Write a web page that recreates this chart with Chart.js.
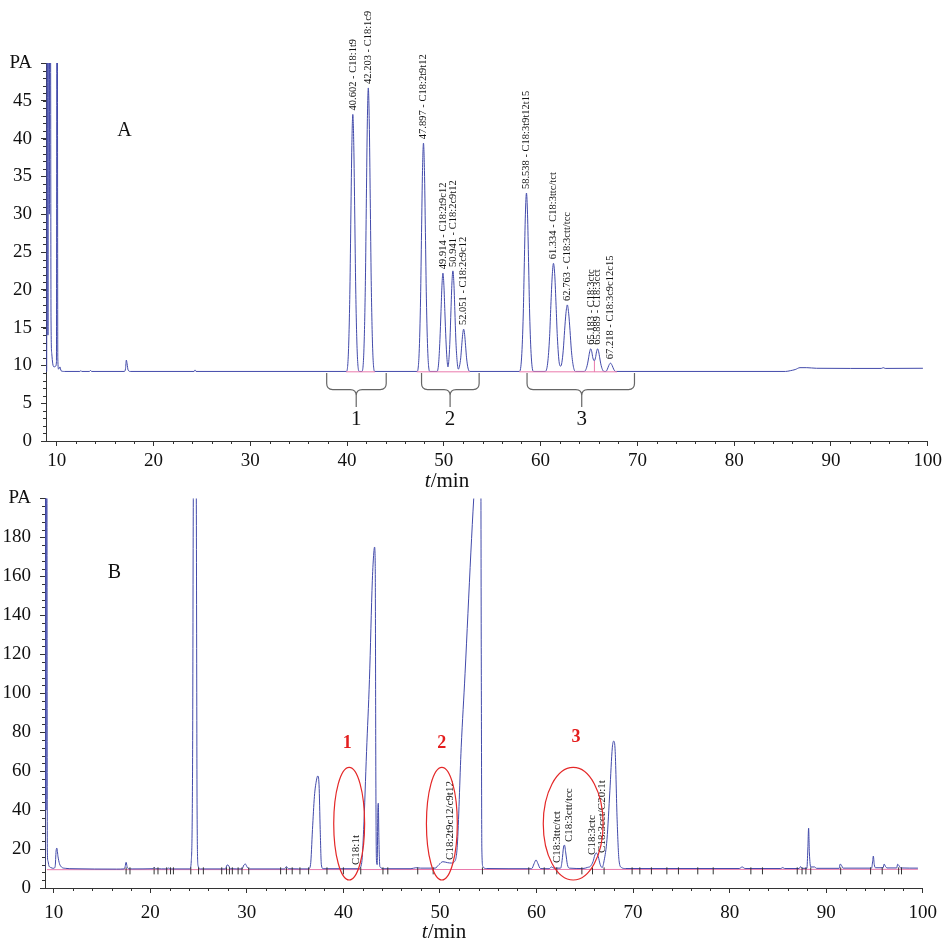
<!DOCTYPE html>
<html>
<head>
<meta charset="utf-8">
<script src="https://cdn.jsdelivr.net/npm/chart.js@4.4.1/dist/chart.umd.min.js"></script>
<style>
  html, body { margin: 0; padding: 0; background: #fff; }
  .panel { position: absolute; left: 0; width: 946px; }
  #panelA { top: 0; height: 500px; }
  #panelB { top: 478px; height: 466px; }
</style>
</head>
<body>
<div class="panel" id="panelA"><canvas id="chartA"></canvas></div>
<div class="panel" id="panelB"><canvas id="chartB"></canvas></div>
<script>
// Chromatogram A and B (t/min vs PA)
const SERIF = '"Liberation Serif", "Times New Roman", serif';
const TRACE_COLOR = 'rgb(66,74,170)';
const BASE_COLOR = 'rgb(234,122,172)';

const xTicks = [10, 20, 30, 40, 50, 60, 70, 80, 90, 100];
const yTicksA = [0, 5, 10, 15, 20, 25, 30, 35, 40, 45, 50];
const yTicksB = [0, 20, 40, 60, 80, 100, 120, 140, 160, 180, 200];

// ---- panel A: trace [t, PA]
const traceA = [
  [8.9, 9.2], [8.97, 9.2], [9.0, 60], [9.06, 60], [9.1, 14], [9.13, 60], [9.2, 60], [9.24, 30],
  [9.28, 60], [9.36, 60], [9.42, 16], [9.5, 11.5], [9.6, 10.2], [9.75, 9.8], [9.9, 9.9],
  [9.98, 10.5], [10.02, 60], [10.07, 60], [10.12, 11], [10.2, 9.5], [10.35, 9.8], [10.45, 9.3],
  [10.8, 9.2], [12.4, 9.2], [12.5, 9.3], [12.6, 9.2], [13.4, 9.2], [13.5, 9.35], [13.6, 9.2],
  [17.0, 9.2], [17.12, 9.6], [17.2, 10.7], [17.28, 10.2], [17.38, 9.4], [17.6, 9.2],
  [24.2, 9.2], [24.3, 9.4], [24.4, 9.2],
  [39.95, 9.2], [40.15, 11.9], [40.3, 20.1], [40.4, 29.9], [40.5, 39.1], [40.6, 43.2],
  [40.7, 39.1], [40.8, 29.9], [40.9, 20.1], [41.05, 11.9], [41.25, 9.2],
  [41.55, 9.2], [41.75, 12.2], [41.9, 21.2], [42.0, 32.1], [42.1, 42.2], [42.2, 46.7],
  [42.3, 42.2], [42.4, 32.1], [42.5, 21.2], [42.65, 12.2], [42.85, 9.2],
  [47.25, 9.2], [47.45, 11.6], [47.6, 18.9], [47.7, 27.6], [47.8, 35.8], [47.9, 39.4],
  [48.0, 35.8], [48.1, 27.6], [48.2, 18.9], [48.35, 11.6], [48.55, 9.2],
  [49.3, 9.2], [49.46, 10.2], [49.6, 13.4], [49.71, 17.1], [49.81, 20.6], [49.91, 22.2],
  [50.01, 20.6], [50.11, 17.1], [50.22, 13.4], [50.32, 11.0], [50.43, 9.8], [50.54, 11.0],
  [50.64, 13.5], [50.74, 17.3], [50.84, 20.9], [50.94, 22.5], [51.04, 20.9], [51.14, 17.3],
  [51.24, 13.5], [51.36, 10.8], [51.5, 9.5], [51.62, 9.9], [51.75, 11.0], [51.85, 12.6],
  [51.95, 14.1], [52.05, 14.8], [52.15, 14.1], [52.25, 12.6], [52.35, 11.0], [52.5, 9.65],
  [52.7, 9.2],
  [57.82, 9.2], [58.04, 11.1], [58.21, 16.8], [58.32, 23.6], [58.43, 30.0], [58.54, 32.8],
  [58.65, 30.0], [58.76, 23.6], [58.87, 16.8], [59.04, 11.1], [59.26, 9.2],
  [60.48, 9.2], [60.73, 10.3], [60.93, 13.8], [61.06, 17.9], [61.2, 21.8], [61.33, 23.5],
  [61.47, 21.8], [61.6, 17.9], [61.73, 13.8], [61.93, 10.3], [62.08, 9.9], [62.2, 10.4],
  [62.34, 12.0], [62.48, 14.6], [62.62, 16.9], [62.76, 18.0], [62.9, 16.9], [63.04, 14.6],
  [63.18, 12.0], [63.38, 9.9], [63.6, 9.2],
  [64.5, 9.2], [64.68, 9.45], [64.85, 10.2], [64.96, 11.0], [65.07, 11.8], [65.18, 12.2],
  [65.29, 11.8], [65.4, 11.0], [65.55, 10.6], [65.67, 11.0], [65.78, 11.8], [65.89, 12.2],
  [66.0, 11.8], [66.11, 11.0], [66.22, 10.2], [66.39, 9.45], [66.55, 9.2],
  [66.75, 9.2], [66.9, 9.5], [67.05, 10.0], [67.22, 10.3], [67.39, 10.0], [67.55, 9.5], [67.75, 9.2],
  [85.3, 9.2], [85.8, 9.3], [86.3, 9.45], [86.8, 9.7], [87.5, 9.7], [88.5, 9.62], [92, 9.6],
  [95.2, 9.6], [95.4, 9.7], [95.6, 9.6], [99.5, 9.62]
];
const peakTimesA = [40.602, 42.203, 47.897, 49.914, 50.941, 52.051, 58.538, 61.334, 62.763, 65.183, 65.889, 67.218];
const peakNamesA = ['C18:1t9', 'C18:1c9', 'C18:2t9t12', 'C18:2t9c12', 'C18:2c9t12', 'C18:2c9c12',
  'C18:3t9t12t15', 'C18:3ttc/tct', 'C18:3ctt/tcc', 'C18:3ctc', 'C18:3cct', 'C18:3c9c12c15'];
const peakApexA = [43.2, 46.7, 39.4, 22.2, 22.5, 14.8, 32.8, 23.5, 18.0, 12.2, 12.2, 10.3];
const baselineSegA = [[39.9, 42.9], [47.2, 52.7], [57.8, 67.9]];
const bracketFromA = [37.9, 47.7, 58.6];
const bracketToA = [44.05, 53.65, 69.7];
const bracketMidA = [40.95, 50.65, 64.25];
const bracketLabelsA = ['1', '2', '3'];

// ---- panel B: trace [t, PA]
const traceB = [
  [9.1, 9.8], [9.12, 215], [9.17, 215], [9.2, 40], [9.24, 215], [9.3, 215], [9.34, 20], [9.4, 14],
  [9.5, 11.5], [9.7, 10.5], [10.0, 10.1], [10.15, 11], [10.25, 19], [10.32, 20.5], [10.45, 16],
  [10.6, 12.5], [10.8, 10.8], [11.2, 10.1], [12.0, 9.9], [16.5, 9.7], [17.3, 9.8], [17.4, 11],
  [17.5, 13.2], [17.6, 11], [17.75, 9.9], [18.2, 9.8], [20.3, 9.9], [20.4, 10.6], [20.55, 9.9],
  [21.8, 9.8], [21.9, 10.4], [22.0, 9.8], [24.1, 9.8], [24.25, 14], [24.38, 60], [24.48, 215],
  [24.75, 215], [24.85, 40], [24.95, 11.5], [25.2, 9.8], [27.8, 9.8], [27.95, 11.8], [28.1, 11.6],
  [28.3, 9.9], [29.5, 9.8], [29.7, 11.8], [29.85, 12.3], [30.05, 10.6], [30.3, 9.8], [33.9, 9.8],
  [34.1, 11], [34.3, 9.9], [36.4, 9.8], [36.6, 12], [36.8, 30], [37.0, 47], [37.2, 55],
  [37.35, 57.5], [37.48, 53], [37.6, 30], [37.72, 12], [37.9, 9.9], [41.6, 9.9], [41.9, 13],
  [42.1, 30], [42.4, 70], [42.7, 107], [43.0, 158], [43.15, 172], [43.23, 175], [43.3, 165],
  [43.36, 60], [43.42, 15], [43.5, 12], [43.57, 40], [43.62, 43.5], [43.68, 25], [43.78, 11],
  [44.2, 9.9], [47.0, 9.9], [47.5, 10.4], [48.0, 10.2], [49.5, 10.2], [49.9, 12], [50.3, 13.5],
  [50.8, 13], [51.2, 12.8], [51.5, 13.5], [51.8, 22], [52.2, 72], [52.6, 110], [52.9, 141],
  [53.2, 172], [53.5, 200], [53.9, 230], [54.22, 240], [54.28, 120], [54.34, 20], [54.45, 11],
  [54.8, 10], [59.5, 9.9], [59.75, 12.5], [59.95, 14.4], [60.15, 12.5], [60.4, 10], [61.3, 9.9],
  [61.55, 10.8], [61.8, 10.2], [62.5, 10.2], [62.65, 14], [62.8, 21], [62.9, 22], [63.03, 18],
  [63.2, 12], [63.4, 10.2], [64.8, 10], [65.3, 10.6], [65.6, 11.2], [65.85, 13.5], [66.05, 17],
  [66.2, 18], [66.4, 16], [66.6, 12], [66.8, 10.5], [67.0, 14], [67.3, 25], [67.6, 50],
  [67.85, 72], [68.0, 75.4], [68.15, 70], [68.35, 35], [68.55, 14], [68.8, 10.5], [69.2, 10],
  [81.0, 10], [81.3, 10.8], [81.6, 10], [85.3, 10], [85.5, 10.5], [85.7, 10], [87.2, 10],
  [87.35, 11], [87.5, 10.1], [88.0, 10.1], [88.1, 20], [88.18, 30.7], [88.26, 18], [88.4, 10.8],
  [88.8, 10.8], [89.0, 10.1], [91.35, 10.1], [91.45, 12.3], [91.6, 11.5], [91.75, 10.2],
  [94.7, 10.2], [94.82, 14], [94.88, 16.4], [94.98, 12], [95.1, 10.4], [95.9, 10.4], [96.0, 12.3],
  [96.15, 11], [96.3, 10.3], [97.3, 10.3], [97.4, 12.2], [97.55, 11.4], [97.7, 10.3], [99.5, 10.2]
];
// integration marks under the baseline
const integTicksB = [17.5, 17.9, 20.4, 20.8, 21.7, 22.1, 22.4, 24.2, 25.0, 25.5, 27.4, 27.9, 28.2,
  28.5, 29.1, 29.5, 30.2, 33.5, 34.1, 34.7, 35.5, 36.4, 38.3, 40.0, 41.8, 44.1, 44.6, 47.7, 49.3,
  54.4, 59.2, 60.8, 62.1, 64.7, 65.8, 67.0, 69.9, 70.7, 71.9, 73.5, 74.7, 76.7, 78.3, 82.2, 83.4,
  87.0, 87.5, 87.9, 88.4, 91.5, 94.6, 95.8, 97.5, 97.8];
const labelsB = ['C18:1t', 'C18:2t9c12/c9t12', 'C18:3ttc/tct', 'C18:3ctt/tcc', 'C18:3ctc', 'C18:3cct/C20:1t'];
const labelTimesB = [41.3, 51.1, 62.1, 63.4, 65.8, 66.8];
const labelBaseB = [11.8, 14.4, 12.8, 23.6, 17, 18];
const ringCentersB = [40.6, 50.2, 63.8];
const ringHalfWidthB = [1.6, 1.6, 3.1];
const ringNumbersB = ['1', '2', '3'];
const ringNumberTimesB = [40.4, 50.2, 64.1];
const ringNumberPAB = [74.2, 74.2, 77.2];

// ---------- helpers
function drawTimeTitle(ctx, cx, cy) {
  ctx.save();
  ctx.fillStyle = '#111';
  ctx.textBaseline = 'middle';
  ctx.textAlign = 'left';
  const fi = `italic 21px ${SERIF}`, fn = `21px ${SERIF}`;
  ctx.font = fi; const w1 = ctx.measureText('t').width;
  ctx.font = fn; const w2 = ctx.measureText('/min').width;
  const x0 = cx - (w1 + w2) / 2;
  ctx.font = fi; ctx.fillText('t', x0, cy);
  ctx.font = fn; ctx.fillText('/min', x0 + w1, cy);
  ctx.restore();
}

function minorTicks(step, yStep) {
  return {
    id: 'minorTicks',
    afterDraw(chart) {
      const { ctx, scales: { x, y } } = chart;
      ctx.save();
      ctx.strokeStyle = '#333';
      ctx.lineWidth = 1;
      ctx.beginPath();
      for (let v = 10; v <= 100; v += step) {
        if (v % 10 === 0) continue;
        const px = Math.round(x.getPixelForValue(v)) + 0.5;
        ctx.moveTo(px, y.bottom); ctx.lineTo(px, y.bottom + 3);
      }
      for (let v = 0; v <= y.max; v += yStep) {
        const py = Math.round(y.getPixelForValue(v)) + 0.5;
        ctx.moveTo(x.left, py); ctx.lineTo(x.left - 3, py);
      }
      ctx.stroke();
      ctx.restore();
    }
  };
}

function baseOptions(xMin, yMax, yTicks, yWidth, xHeight, pad, xPad) {
  return {
    responsive: true,
    maintainAspectRatio: false,
    animation: false,
    layout: { padding: pad },
    plugins: { legend: { display: false }, tooltip: { enabled: false } },
    elements: { point: { radius: 0 } },
    scales: {
      x: {
        type: 'linear', min: xMin, max: 100,
        afterBuildTicks: s => { s.ticks = xTicks.map(v => ({ value: v })); },
        afterFit: s => { s.height = xHeight; },
        grid: { drawOnChartArea: false, tickLength: 5, color: '#333' },
        border: { display: true, color: '#333' },
        ticks: { autoSkip: false, maxRotation: 0, padding: xPad, color: '#111', font: { family: SERIF, size: 19 } }
      },
      y: {
        type: 'linear', min: 0, max: yMax,
        afterBuildTicks: s => { s.ticks = yTicks.map(v => ({ value: v })); },
        afterFit: s => { s.width = yWidth; },
        grid: { drawOnChartArea: false, tickLength: 5, color: '#333' },
        border: { display: true, color: '#333' },
        ticks: {
          padding: 9, color: '#111', font: { family: SERIF, size: 19 },
          callback: v => (v === yMax ? 'PA' : v)
        }
      }
    }
  };
}

// ---------- chart A
const pinkA = [];
baselineSegA.forEach(([a, b]) => {
  pinkA.push({ x: a, y: 9.15 }, { x: b, y: 9.15 }, { x: b + 0.01, y: null });
});

const decorA = {
  id: 'decorA',
  afterDatasetsDraw(chart) {
    const { ctx, scales: { x, y } } = chart;
    ctx.save();
    // peak labels
    ctx.fillStyle = '#111';
    ctx.font = `10.5px ${SERIF}`;
    ctx.textAlign = 'left';
    ctx.textBaseline = 'middle';
    peakTimesA.forEach((t, i) => {
      ctx.save();
      ctx.translate(x.getPixelForValue(t), y.getPixelForValue(peakApexA[i]) - 4);
      ctx.rotate(-Math.PI / 2);
      ctx.fillText(`${t.toFixed(3)} - ${peakNamesA[i]}`, 0, 0);
      ctx.restore();
    });
    // group braces
    ctx.strokeStyle = '#666';
    ctx.lineWidth = 1.2;
    const yTop = y.getPixelForValue(9.0), yH = y.getPixelForValue(6.8), yTip = y.getPixelForValue(4.5);
    const r = 6;
    bracketFromA.forEach((a, i) => {
      const x1 = x.getPixelForValue(a), x2 = x.getPixelForValue(bracketToA[i]), xm = x.getPixelForValue(bracketMidA[i]);
      ctx.beginPath();
      ctx.moveTo(x1, yTop);
      ctx.lineTo(x1, yH - r);
      ctx.quadraticCurveTo(x1, yH, x1 + r, yH);
      ctx.lineTo(xm - r, yH);
      ctx.quadraticCurveTo(xm, yH, xm, yH + r);
      ctx.lineTo(xm, yTip);
      ctx.moveTo(xm, yH + r);
      ctx.quadraticCurveTo(xm, yH, xm + r, yH);
      ctx.lineTo(x2 - r, yH);
      ctx.quadraticCurveTo(x2, yH, x2, yH - r);
      ctx.lineTo(x2, yTop);
      ctx.stroke();
    });
    ctx.font = `21px ${SERIF}`;
    ctx.textAlign = 'center';
    bracketLabelsA.forEach((lab, i) => {
      ctx.fillText(lab, x.getPixelForValue(bracketMidA[i]), y.getPixelForValue(2.8));
    });
    ctx.font = `20px ${SERIF}`;
    ctx.fillText('A', x.getPixelForValue(17.0), y.getPixelForValue(41.1));
    ctx.restore();
    drawTimeTitle(ctx, 447, y.bottom + 40);
  }
};

new Chart(document.getElementById('chartA'), {
  type: 'line',
  data: {
    datasets: [
      { data: pinkA, borderColor: BASE_COLOR, borderWidth: 1, tension: 0, spanGaps: false },
      { data: [{ x: 65.55, y: 9.15 }, { x: 65.56, y: 10.6 }], borderColor: BASE_COLOR, borderWidth: 1, tension: 0 },
      { data: traceA.map(([t, v]) => ({ x: t, y: v })), borderColor: TRACE_COLOR, borderWidth: 1,
        cubicInterpolationMode: 'monotone' }
    ]
  },
  options: baseOptions(8.9, 50, yTicksA, 46, 59, { top: 63, right: 16, left: 0, bottom: 0 }, 4),
  plugins: [minorTicks(2, 1), decorA]
});

// ---------- chart B
const decorB = {
  id: 'decorB',
  afterDatasetsDraw(chart) {
    const { ctx, scales: { x, y } } = chart;
    ctx.save();
    // peak names
    ctx.fillStyle = '#111';
    ctx.font = `11px ${SERIF}`;
    ctx.textAlign = 'left';
    ctx.textBaseline = 'middle';
    labelsB.forEach((lab, i) => {
      ctx.save();
      ctx.translate(x.getPixelForValue(labelTimesB[i]), y.getPixelForValue(labelBaseB[i]));
      ctx.rotate(-Math.PI / 2);
      ctx.fillText(lab, 0, 0);
      ctx.restore();
    });
    // red rings
    ctx.strokeStyle = 'rgb(228,40,40)';
    ctx.lineWidth = 1.2;
    const cy = y.getPixelForValue(33), ry = Math.abs(y.getPixelForValue(33 + 28.9) - cy);
    ringCentersB.forEach((c, i) => {
      const cx = x.getPixelForValue(c);
      const rx = Math.abs(x.getPixelForValue(c + ringHalfWidthB[i]) - cx);
      ctx.beginPath();
      ctx.ellipse(cx, cy, rx, ry, 0, 0, Math.PI * 2);
      ctx.stroke();
    });
    ctx.fillStyle = 'rgb(228,30,30)';
    ctx.font = `bold 18px ${SERIF}`;
    ctx.textAlign = 'center';
    ringNumbersB.forEach((n, i) => {
      ctx.fillText(n, x.getPixelForValue(ringNumberTimesB[i]), y.getPixelForValue(ringNumberPAB[i]));
    });
    ctx.fillStyle = '#111';
    ctx.font = `20px ${SERIF}`;
    ctx.fillText('B', x.getPixelForValue(16.3), y.getPixelForValue(161.6));
    ctx.restore();
    drawTimeTitle(ctx, 444, y.bottom + 44);
  }
};

new Chart(document.getElementById('chartB'), {
  type: 'line',
  data: {
    datasets: [
      { data: integTicksB.map(t => ({ x: t, y: 8.8 })), showLine: false, pointStyle: 'line',
        pointRotation: 90, pointRadius: 3.5, pointBorderWidth: 1, pointBorderColor: '#333', borderColor: '#333' },
      { data: traceB.map(([t, v]) => ({ x: t, y: v })), borderColor: TRACE_COLOR, borderWidth: 1,
        cubicInterpolationMode: 'monotone' },
      { data: [{ x: 9.3, y: 9.4 }, { x: 99.5, y: 9.6 }], borderColor: BASE_COLOR, borderWidth: 1, tension: 0 }
    ]
  },
  options: baseOptions(9.1, 200, yTicksB, 45, 56, { top: 19, right: 18, left: 0, bottom: 0 }, 9),
  plugins: [minorTicks(2, 4), decorB]
});
</script>
</body>
</html>
